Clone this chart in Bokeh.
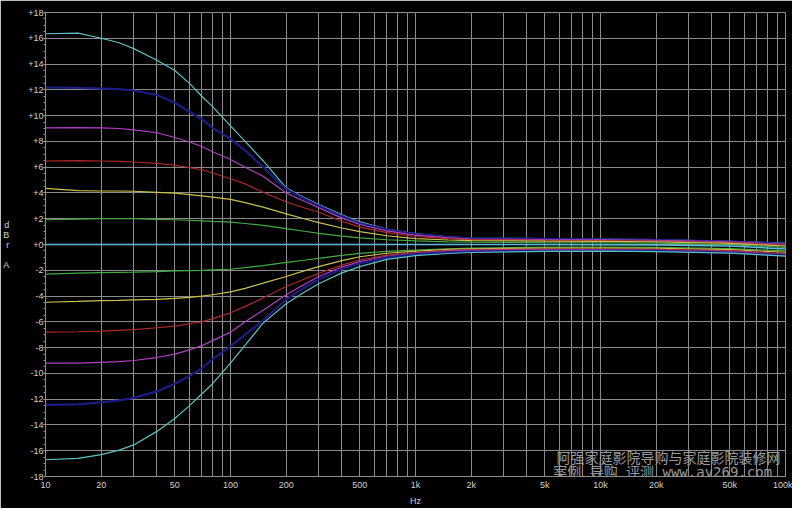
from bokeh.plotting import figure
from bokeh.models import FixedTicker, Label, ColumnDataSource
from bokeh.embed import file_html
from bokeh.resources import INLINE
import numpy as np

# ---------------- data ----------------
FREQ = [10, 15, 20, 25, 30, 40, 50, 60, 70, 80, 100, 120, 150, 200, 250, 300, 400, 500,
        700, 1000, 1500, 2000, 5000, 10000, 20000, 50000, 100000]

CYAN_UP = [16.35, 16.4, 16.0, 15.65, 15.2, 14.3, 13.5, 12.5, 11.5, 10.7, 9.2, 8.0, 6.5, 4.4,
           3.65, 3.1, 2.3, 1.75, 1.2, 0.85, 0.6, 0.5, 0.45, 0.42, 0.38, 0.25, 0.1]
BLUE_UP = [12.18, 12.15, 12.1, 12.05, 11.95, 11.6, 11.0, 10.3, 9.7, 9.05, 8.2, 7.3, 6.0, 4.3,
           3.55, 3.0, 2.2, 1.65, 1.15, 0.8, 0.58, 0.47, 0.43, 0.40, 0.36, 0.23, 0.06]
MAG_UP = [9.05, 9.07, 9.05, 9.0, 8.9, 8.67, 8.3, 7.95, 7.6, 7.2, 6.6, 6.0, 5.3, 4.0,
          3.35, 2.85, 2.05, 1.55, 1.05, 0.72, 0.52, 0.42, 0.38, 0.36, 0.32, 0.2, 0.02]
RED_UP = [6.48, 6.5, 6.48, 6.45, 6.4, 6.3, 6.15, 5.97, 5.8, 5.55, 5.1, 4.7, 4.05, 3.3,
          2.85, 2.5, 1.8, 1.35, 0.92, 0.62, 0.45, 0.38, 0.33, 0.31, 0.27, 0.15, -0.04]
YEL_UP = [4.35, 4.18, 4.15, 4.15, 4.13, 4.05, 3.98, 3.87, 3.77, 3.67, 3.5, 3.25, 2.9, 2.38,
          2.0, 1.7, 1.28, 1.0, 0.68, 0.46, 0.35, 0.3, 0.26, 0.24, 0.2, 0.08, -0.12]
GRN_UP = [1.92, 1.97, 2.0, 2.0, 2.0, 1.95, 1.92, 1.88, 1.83, 1.79, 1.74, 1.63, 1.49, 1.23,
          1.03, 0.87, 0.65, 0.52, 0.37, 0.28, 0.21, 0.18, 0.15, 0.13, 0.1, -0.02, -0.22]
FLAT = [0.0, 0.0, 0.0, 0.0, 0.0, 0.0, 0.0, 0.0, 0.0, 0.0, 0.0, 0.0, 0.0, 0.0,
        0.0, 0.0, 0.0, 0.0, 0.0, 0.0, 0.0, 0.0, 0.0, -0.01, -0.03, -0.12, -0.35]
GRN_DN = [-2.3, -2.22, -2.18, -2.16, -2.15, -2.1, -2.05, -2.03, -2.0, -1.97, -1.92, -1.8, -1.64, -1.38,
          -1.22, -1.08, -0.85, -0.69, -0.53, -0.44, -0.33, -0.28, -0.2, -0.2, -0.22, -0.32, -0.5]
YEL_DN = [-4.48, -4.42, -4.36, -4.33, -4.3, -4.25, -4.18, -4.1, -4.0, -3.9, -3.68, -3.4, -3.0, -2.48,
          -2.05, -1.72, -1.25, -0.95, -0.68, -0.51, -0.38, -0.33, -0.28, -0.27, -0.29, -0.4, -0.6]
RED_DN = [-6.8, -6.77, -6.72, -6.66, -6.6, -6.46, -6.33, -6.15, -6.0, -5.75, -5.3, -4.8, -4.15, -3.26,
          -2.7, -2.23, -1.6, -1.2, -0.82, -0.62, -0.46, -0.4, -0.36, -0.35, -0.37, -0.48, -0.7]
MAG_DN = [-9.2, -9.2, -9.15, -9.08, -9.0, -8.77, -8.5, -8.18, -7.85, -7.46, -6.8, -6.0, -5.1, -3.9,
          -3.1, -2.48, -1.75, -1.33, -0.92, -0.69, -0.52, -0.46, -0.42, -0.41, -0.43, -0.55, -0.78]
BLUE_DN = [-12.45, -12.4, -12.25, -12.1, -11.9, -11.4, -10.8, -10.2, -9.6, -8.9, -7.9, -7.0, -5.9, -4.25,
           -3.35, -2.7, -1.9, -1.46, -1.0, -0.75, -0.6, -0.55, -0.49, -0.48, -0.5, -0.62, -0.85]
CYAN_DN = [-16.7, -16.6, -16.3, -15.95, -15.55, -14.5, -13.5, -12.5, -11.6, -10.8, -9.2, -7.8, -6.1, -4.6,
           -3.7, -3.05, -2.2, -1.72, -1.15, -0.87, -0.7, -0.62, -0.53, -0.52, -0.55, -0.67, -0.9]

X_TICKS = [10, 20, 50, 100, 200, 500, 1000, 2000, 5000, 10000, 20000, 50000, 100000]
X_LABELS = ["10", "20", "50", "100", "200", "500", "1k", "2k", "5k", "10k", "20k", "50k", "100k"]
X_GRID = [m * 10 ** e for e in range(1, 5) for m in range(1, 10)] + [100000]
Y_TICKS = list(range(-18, 19, 2))
Y_LABELS = [("+%d" % v) if v >= 0 else ("%d" % v) for v in Y_TICKS]

SERIES = [
    ("CYAN_UP", CYAN_UP, "#5cc2c0", 1.2),
    ("BLUE_UP", BLUE_UP, "#1c1c84", 2.2),
    ("MAG_UP", MAG_UP, "#b040c4", 1.2),
    ("RED_UP", RED_UP, "#b02828", 1.2),
    ("YEL_UP", YEL_UP, "#c8c050", 1.2),
    ("GRN_UP", GRN_UP, "#44a844", 1.2),
    ("FLAT", FLAT, "#60b8e0", 1.5),
    ("GRN_DN", GRN_DN, "#44a844", 1.2),
    ("YEL_DN", YEL_DN, "#c8c050", 1.2),
    ("RED_DN", RED_DN, "#b02828", 1.2),
    ("MAG_DN", MAG_DN, "#b040c4", 1.2),
    ("BLUE_DN", BLUE_DN, "#1c1c84", 2.2),
    ("CYAN_DN", CYAN_DN, "#5cc2c0", 1.2),
]

# ---------------- figure ----------------
p = figure(width=792, height=508, x_axis_type="log", x_range=(10, 100000), y_range=(-18, 18),
           output_backend="svg", toolbar_location=None,
           min_border_left=45, min_border_right=7, min_border_top=12, min_border_bottom=28)
p.background_fill_color = "black"
p.border_fill_color = "black"
p.outline_line_color = "#8c8c8c"

GRID_COLOR = "#8a8a8a"
p.xgrid.ticker = FixedTicker(ticks=X_GRID)
p.ygrid.ticker = FixedTicker(ticks=Y_TICKS)
p.xgrid.grid_line_color = GRID_COLOR
p.ygrid.grid_line_color = GRID_COLOR
p.xgrid.grid_line_width = 1
p.ygrid.grid_line_width = 1

xa = p.xaxis[0]
xa.ticker = FixedTicker(ticks=X_TICKS, minor_ticks=[])
xa.major_label_overrides = {t: l for t, l in zip(X_TICKS, X_LABELS)}
xa.axis_line_color = None
xa.major_tick_line_color = None
xa.minor_tick_line_color = None
xa.major_tick_out = 0
xa.minor_tick_out = 0
xa.major_label_standoff = 3
xa.axis_label = "Hz"
xa.axis_label_standoff = 3

ya = p.yaxis[0]
ya.ticker = FixedTicker(ticks=Y_TICKS, minor_ticks=list(np.arange(-18, 18.01, 0.5)))
ya.major_label_overrides = {t: l for t, l in zip(Y_TICKS, Y_LABELS)}
ya.axis_line_color = None
ya.major_tick_line_color = "#8c8c8c"
ya.minor_tick_line_color = "#8c8c8c"
ya.major_tick_out = 2
ya.major_tick_in = 0
ya.minor_tick_out = 2
ya.minor_tick_in = 0
ya.major_label_standoff = 0
ya.axis_label = "d\nB\nr\n\nA"
ya.axis_label_orientation = "horizontal"
ya.axis_label_standoff = 16
ya.axis_label_text_line_height = 1.0

for ax in (xa, ya):
    ax.major_label_text_color = "#d0d0d0"
    ax.major_label_text_font = "Liberation Sans"
    ax.major_label_text_font_size = "9px"
    ax.axis_label_text_color = "#d0d0d0"
    ax.axis_label_text_font = "Liberation Sans"
    ax.axis_label_text_font_size = "9px"
    ax.axis_label_text_font_style = "normal"

data = {"f": FREQ}
for name, vals, _, _ in SERIES:
    data[name] = vals
src = ColumnDataSource(data)

for name, vals, color, lw in SERIES:
    p.line("f", name, source=src, line_color=color, line_width=lw)

# watermark
p.add_layout(Label(x=100000, y=-18, x_offset=-5, y_offset=20, text="阿强家庭影院导购与家庭影院装修网",
                   text_align="right", text_baseline="middle", text_color="#9a9a9a",
                   text_font="Noto Sans CJK SC", text_font_size="14px"))
p.add_layout(Label(x=100000, y=-18, x_offset=-5, y_offset=5, text="案例 导购 评测  www.av269.com",
                   text_align="right", text_baseline="middle", text_color="#9a9a9a",
                   text_font="DejaVu Sans Mono, Noto Sans CJK SC", text_font_size="14px"))

open("out.html", "w").write(file_html(p, INLINE))
